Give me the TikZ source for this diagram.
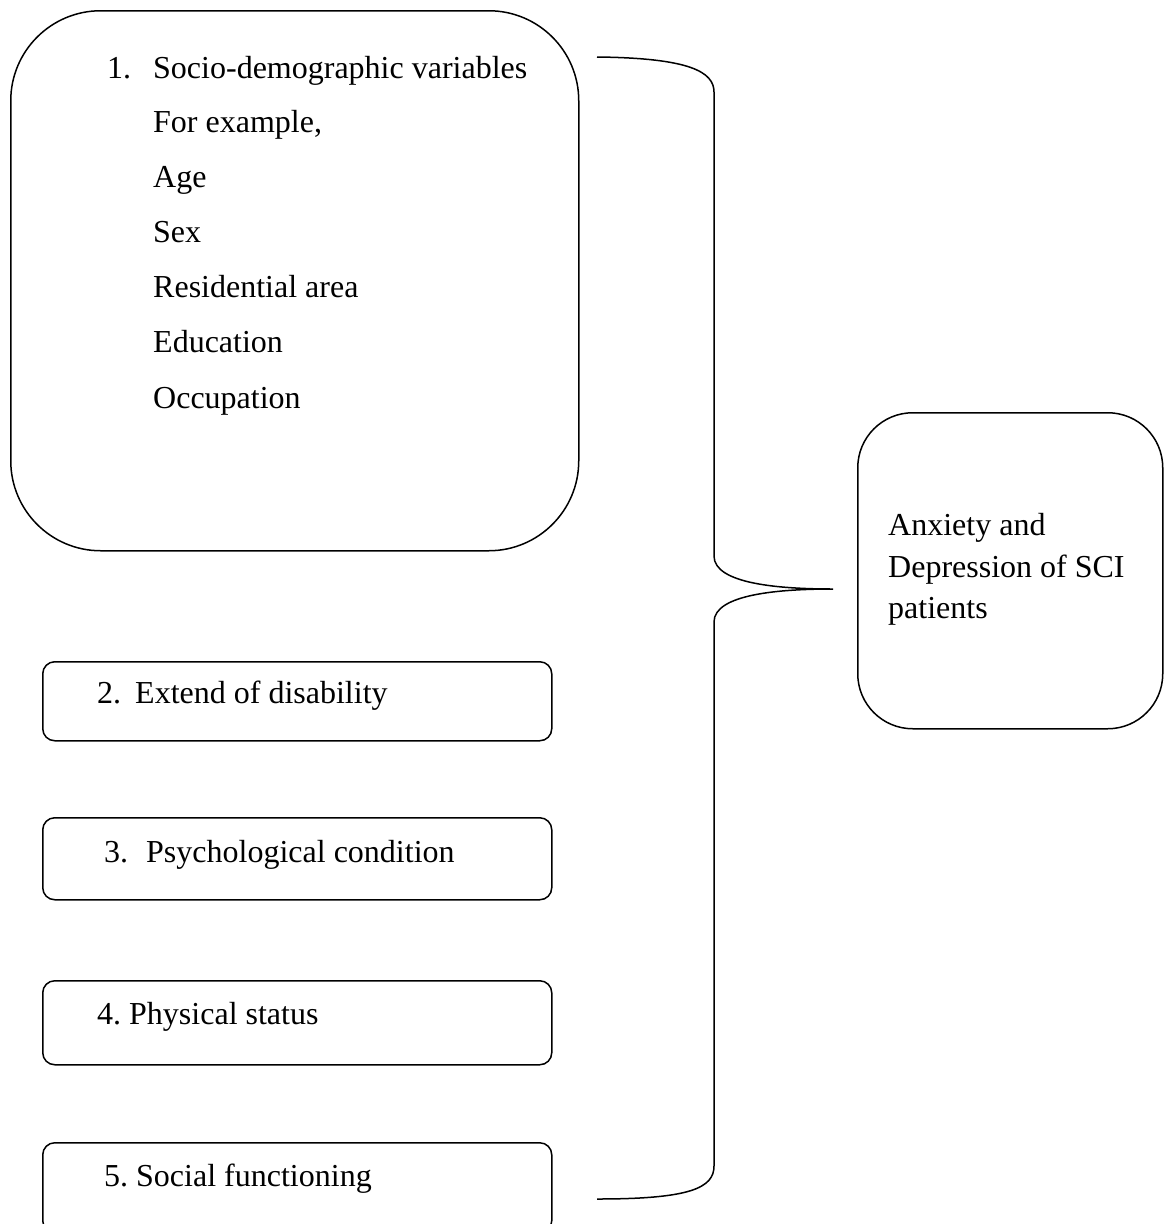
\documentclass[tikz,border=0pt]{standalone}
\usepackage{fontspec}
\setmainfont{Liberation Serif}
\frenchspacing
\begin{document}
\begin{tikzpicture}[x=1pt,y=-1pt,
  line/.style={line width=1.5pt,black},
  bigbox/.style={draw,line width=1.5pt,rounded corners=90pt,anchor=north west,inner sep=0pt},
  smallbox/.style={draw,line width=1.5pt,rounded corners=12pt,anchor=north west,inner sep=0pt,minimum width=509pt,minimum height=79pt},
  outbox/.style={draw,line width=1.5pt,rounded corners=55pt,anchor=north west,inner sep=0pt},
  txt/.style={anchor=base west,inner sep=0pt,font=\fontsize{32}{40}\selectfont}]
\useasboundingbox (0,0) rectangle (1165,1224);
\clip (0,0) rectangle (1165,1224);
% boxes
\node[bigbox,minimum width=568pt,minimum height=540pt] (b1) at (10,10) {};
\node[smallbox] (b2) at (42,661) {};
\node[smallbox,minimum height=82pt] (b3) at (42,817) {};
\node[smallbox,minimum height=84pt] (b4) at (42,980) {};
\node[smallbox,minimum height=90pt] (b5) at (42,1142) {};
\node[outbox,minimum width=305pt,minimum height=316pt] (out) at (857,412) {};
% texts box 1
\node[txt] (n1) at (107,78) {1.};
\node[txt] (t1) at (153,78) {Socio-demographic variables};
\node[txt] (t2) at (153,132) {For example,};
\node[txt] (t3) at (153,187) {Age};
\node[txt] (t4) at (153,242) {Sex};
\node[txt] (t5) at (153,297) {Residential area};
\node[txt] (t6) at (153,352) {Education};
\node[txt] (t7) at (153,408) {Occupation};
% small box texts
\node[txt] (n2) at (97,703) {2.};
\node[txt] (s2) at (135,703) {Extend of disability};
\node[txt] (n3) at (104,862) {3.};
\node[txt] (s3) at (146,862) {Psychological condition};
\node[txt] (s4) at (97,1024) {4. Physical status};
\node[txt] (s5) at (104,1186) {5. Social functioning};
% outcome text
\node[txt] (o1) at (888,535) {Anxiety and};
\node[txt] (o2) at (888,577) {Depression of SCI};
\node[txt] (o3) at (888,618) {patients};
% brace
\coordinate (btop) at (597,57);
\coordinate (bbot) at (597,1199);
\coordinate (tip) at (833,589);
\draw[line] (btop) .. controls (690,58) and (714,72) .. (714,92)
  -- (714,556) .. controls (714,584) and (780,589) .. (tip)
  .. controls (780,589) and (714,594) .. (714,622)
  -- (714,1166) .. controls (714,1188) and (690,1199) .. (bbot);
\end{tikzpicture}
\end{document}
